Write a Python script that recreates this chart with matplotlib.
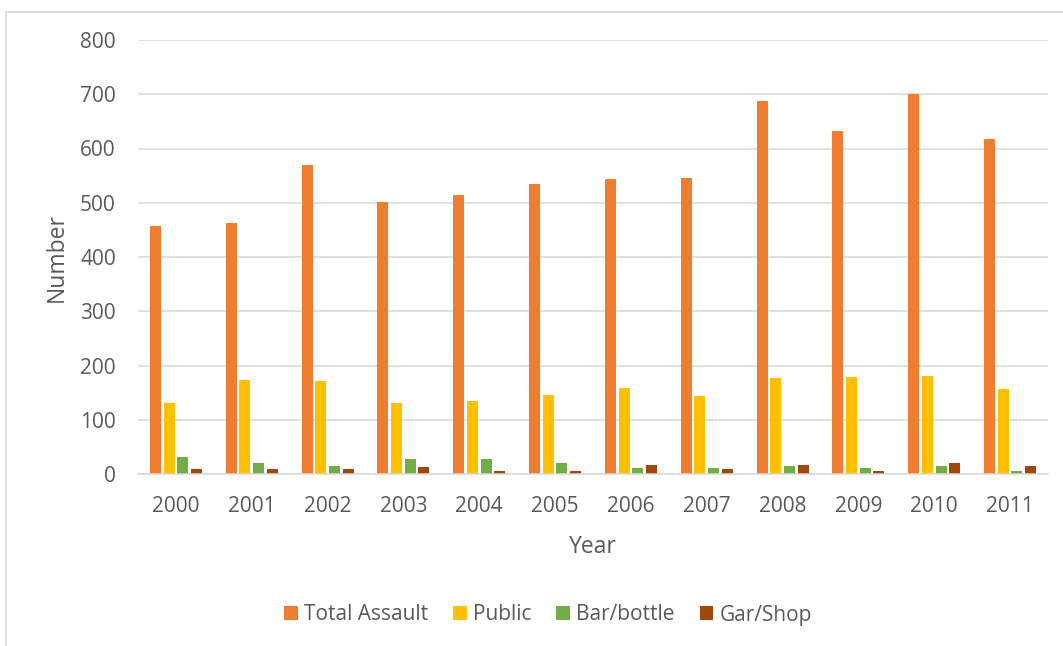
import numpy as np
import matplotlib.pyplot as plt
from matplotlib.patches import Patch
from matplotlib.lines import Line2D

plt.rcParams['font.family'] = ['Open Sans', 'DejaVu Sans']

# yearly counts by assault type
years = ['2000', '2001', '2002', '2003', '2004', '2005',
         '2006', '2007', '2008', '2009', '2010', '2011']
total_assault = [458, 462, 570, 502, 515, 535, 543, 545, 688, 633, 701, 618]
public = [131, 174, 172, 131, 135, 146, 159, 143, 177, 179, 180, 157]
bar_bottle = [31, 21, 15, 28, 28, 20, 11, 11, 14, 11, 15, 5]
gar_shop = [9, 9, 9, 13, 5, 5, 17, 9, 16, 6, 21, 14]

series = [('Total Assault', total_assault, '#ED7D31'),
          ('Public', public, '#FFC000'),
          ('Bar/bottle', bar_bottle, '#70AD47'),
          ('Gar/Shop', gar_shop, '#9E480E')]

grey_text = '#595959'
grid_col = '#D9D9D9'

fig = plt.figure(figsize=(10.63, 6.46), dpi=100)
ax = fig.add_axes([138/1063, 1-474/646, 910/1063, 434/646])

x = np.arange(len(years))
step = 0.18
width = 0.145
for i, (name, vals, col) in enumerate(series):
    ax.bar(x + (i - 1.5) * step, vals, width=width, color=col, zorder=3)

ax.set_xlim(-0.5, len(years) - 0.5)
ax.set_ylim(0, 800)
ax.set_yticks(range(0, 801, 100))
ax.set_xticks(x)
ax.set_xticklabels(years)
ax.yaxis.grid(True, color=grid_col, linewidth=1.1, zorder=0)
for s in ['top', 'right', 'left']:
    ax.spines[s].set_visible(False)
ax.spines['bottom'].set_color(grid_col)
ax.spines['bottom'].set_linewidth(1.1)
ax.spines['bottom'].set_zorder(4)
ax.tick_params(axis='both', length=0, labelsize=15, labelcolor=grey_text)
ax.tick_params(axis='y', pad=16)
ax.tick_params(axis='x', pad=16)

ax.set_xlabel('Year', fontsize=16.5, color=grey_text, labelpad=13)
ax.set_ylabel('Number', fontsize=16.5, color=grey_text, labelpad=8)

handles = [Patch(facecolor=c, edgecolor='none', label=n) for n, v, c in series]
fig.legend(handles=handles, loc='center', bbox_to_anchor=(548/1063, 1-615/646),
           ncol=4, frameon=False, fontsize=15, handlelength=0.65, handleheight=0.65,
           handletextpad=0.3, columnspacing=1.2, labelcolor=grey_text)

# chart frame
fig.add_artist(Line2D([5.7/1063, 5.7/1063], [0, 1-11.7/646], color=grid_col,
                      linewidth=1.3, transform=fig.transFigure))
fig.add_artist(Line2D([5.7/1063, 1], [1-11.7/646, 1-11.7/646], color=grid_col,
                      linewidth=1.3, transform=fig.transFigure))

fig.savefig('out.png', dpi=100)
